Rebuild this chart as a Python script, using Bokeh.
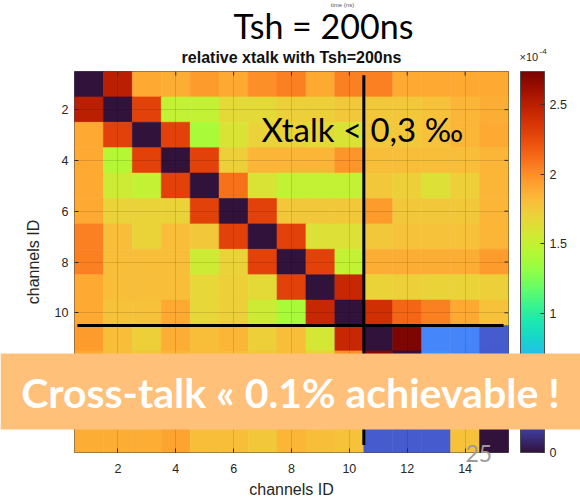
from bokeh.plotting import figure
from bokeh.models import (ColumnDataSource, LinearColorMapper, ColorBar, FixedTicker,
                          Label, BoxAnnotation, Range1d, CustomJSTickFormatter)
from bokeh.palettes import Turbo256
from bokeh.transform import transform
from bokeh.embed import file_html
from bokeh.resources import INLINE

# relative crosstalk (units of 1e-4), one list per channel row
ch01 = [0.00, 2.50, 1.90, 1.88, 1.95, 1.90, 2.00, 2.05, 1.90, 2.05, 2.05, 1.90, 1.90, 1.90, 1.90]
ch02 = [2.50, 0.00, 2.30, 1.50, 1.50, 1.65, 1.65, 1.72, 1.72, 1.75, 1.75, 1.75, 1.78, 1.85, 1.88]
ch03 = [1.90, 2.30, 0.00, 2.30, 1.40, 1.60, 1.70, 1.70, 1.65, 1.60, 1.75, 1.75, 1.78, 1.85, 1.90]
ch04 = [1.90, 1.45, 2.30, 0.00, 2.30, 1.72, 1.85, 1.85, 1.85, 1.97, 1.80, 1.80, 1.80, 1.80, 1.85]
ch05 = [1.90, 1.55, 1.50, 2.30, 0.00, 2.10, 1.60, 1.50, 1.50, 1.50, 1.75, 1.72, 1.62, 1.72, 1.85]
ch06 = [1.90, 1.70, 1.70, 1.70, 2.30, 0.00, 2.30, 1.75, 1.75, 1.75, 1.95, 1.75, 1.75, 1.75, 1.85]
ch07 = [2.05, 1.80, 1.70, 1.80, 1.75, 2.30, 0.00, 2.30, 1.62, 1.62, 1.75, 1.78, 1.78, 1.78, 1.85]
ch08 = [2.05, 1.80, 1.80, 1.80, 1.55, 1.70, 2.30, 0.00, 2.30, 1.50, 1.88, 1.88, 1.88, 1.88, 1.95]
ch09 = [1.90, 1.80, 1.80, 1.80, 1.68, 1.72, 1.65, 2.30, 0.00, 2.45, 1.70, 1.72, 1.70, 1.70, 1.72]
ch10 = [1.90, 1.78, 1.78, 1.90, 1.68, 1.72, 1.55, 1.40, 2.45, 0.00, 2.40, 2.15, 2.05, 1.90, 1.78]
ch11 = [1.95, 1.80, 1.72, 1.88, 1.80, 1.85, 1.72, 1.80, 1.58, 2.45, 0.00, 2.72, 0.47, 0.45, 0.28]
ch12 = [1.90, 1.80, 1.75, 1.85, 1.80, 1.80, 1.75, 1.80, 1.70, 2.00, 2.70, 0.00, 0.50, 0.45, 0.28]
ch13 = [1.90, 1.80, 1.75, 1.85, 1.80, 1.80, 1.75, 1.80, 1.70, 1.90, 0.45, 0.50, 0.00, 0.47, 0.28]
ch14 = [1.90, 1.80, 1.78, 1.85, 1.80, 1.80, 1.75, 1.82, 1.75, 1.80, 0.45, 0.45, 0.47, 0.00, 1.80]
ch15 = [1.88, 1.88, 1.88, 1.92, 1.80, 1.80, 1.75, 1.85, 1.80, 1.78, 0.28, 0.28, 0.28, 1.78, 0.00]
rows = [ch01, ch02, ch03, ch04, ch05, ch06, ch07, ch08, ch09, ch10, ch11, ch12, ch13, ch14, ch15]

channels = list(range(1, 16))
axis_ticks = [2, 4, 6, 8, 10, 12, 14]
cbar_ticks = [0, 0.5, 1, 1.5, 2, 2.5]
cbar_max = 2.74
divider = 10.5

xs, ys, vs = [], [], []
for r, row in zip(channels, rows):
    for c, v in zip(channels, row):
        xs.append(c); ys.append(r); vs.append(v)
src = ColumnDataSource(dict(x=xs, y=ys, v=vs))

W, H = 580, 502
FL, FR, FT, FB = 74, 508, 71, 452  # frame edges in canvas px

p = figure(width=W, height=H, output_backend="svg", toolbar_location=None,
           x_range=Range1d(0.5, 15.5), y_range=Range1d(15.5, 0.5),
           min_border_left=FL, min_border_right=W - FR, min_border_top=FT,
           min_border_bottom=H - FB)
p.background_fill_color = "white"
p.border_fill_color = "white"
p.outline_line_color = "#4d4d4d"
p.outline_line_width = 1

mapper = LinearColorMapper(palette=Turbo256, low=0, high=cbar_max)
p.rect(x="x", y="y", width=1, height=1, source=src,
       fill_color=transform("v", mapper), line_color=transform("v", mapper), line_width=0.6)

# tick marks on the top and right edges (MATLAB box style)
tick_dx, tick_dy = 0.14, 0.16
p.segment(x0=axis_ticks, x1=axis_ticks, y0=[0.5] * len(axis_ticks),
          y1=[0.5 + tick_dy] * len(axis_ticks), line_color="#333333", line_width=1)
p.segment(x0=[15.5] * len(axis_ticks), x1=[15.5 - tick_dx] * len(axis_ticks),
          y0=axis_ticks, y1=axis_ticks, line_color="#333333", line_width=1)

# dividing lines
p.segment(x0=[divider, 0.6], y0=[0.65, divider], x1=[divider, 15.33], y1=[15.2, divider],
          line_color="black", line_width=3)

for ax in (p.xaxis[0], p.yaxis[0]):
    ax.ticker = FixedTicker(ticks=axis_ticks)
    ax.major_tick_in = 4
    ax.major_tick_out = 0
    ax.minor_tick_line_color = None
    ax.axis_line_color = None
    ax.major_tick_line_color = "#333333"
    ax.major_label_text_font = "Liberation Sans"
    ax.major_label_text_font_size = "12.5px"
    ax.major_label_text_color = "#262626"
    ax.axis_label = "channels ID"
    ax.axis_label_text_font = "Liberation Sans"
    ax.axis_label_text_font_size = "16px"
    ax.axis_label_text_font_style = "normal"
    ax.axis_label_text_color = "#262626"
p.xaxis[0].major_label_standoff = 11
p.xaxis[0].axis_label_standoff = 5
p.yaxis[0].major_label_standoff = 6
p.yaxis[0].axis_label_standoff = 10

p.xgrid.ticker = FixedTicker(ticks=axis_ticks)
p.ygrid.ticker = FixedTicker(ticks=axis_ticks)
p.grid.grid_line_color = "black"
p.grid.grid_line_alpha = 0.12
p.grid.level = "guide"

cbar = ColorBar(color_mapper=mapper, width=24, height=FB - FT, padding=0, margin=0,
                ticker=FixedTicker(ticks=cbar_ticks),
                formatter=CustomJSTickFormatter(code="return tick.toString();"),
                major_tick_in=4, major_tick_out=0, major_tick_line_color="#333333",
                bar_line_color="#4d4d4d", major_label_text_font="Liberation Sans",
                major_label_text_font_size="12.5px", major_label_text_color="#262626",
                label_standoff=5, location=(12, 0))
p.add_layout(cbar, "right")

# transparent overlay canvas (separate root) for slide texts and the banner
o = figure(width=W, height=H, output_backend="svg", toolbar_location=None,
           x_range=Range1d(0, W), y_range=Range1d(H, 0),
           min_border=0, min_border_left=0, min_border_right=0,
           min_border_top=0, min_border_bottom=0,
           x_axis_type=None, y_axis_type=None)
o.outline_line_color = None
o.background_fill_alpha = 0
o.border_fill_alpha = 0
o.grid.visible = False
o.styles = {"position": "absolute", "top": "0px", "left": "0px"}

def lab(text, x, y, size, font="Liberation Sans", style="normal", color="black",
        align="left"):
    l = Label(x=x, y=y, text=text, text_font=font, text_font_size=size,
              text_font_style=style, text_color=color, text_align=align,
              text_baseline="middle")
    o.add_layout(l)
    return l

lab("time (ns)", 342, 4, "6px", color="#555555", align="center")
lab("Tsh = 200ns", 233, 25, "34px", font="Lato")
lab("relative xtalk with Tsh=200ns", (FL + FR) / 2, 57, "16px", style="bold",
    align="center", color="#111111")
lab("×10", 519, 56, "11px", color="#262626")
lab("-4", 539, 51, "8px", color="#262626")
lab("Xtalk < 0,3 ‰", 261, 128, "33px", font="Lato")

banner = BoxAnnotation(left=0, right=W, top=353, bottom=429, fill_color="#ffc07a",
                       fill_alpha=1, line_color=None)
o.add_layout(banner)
lab("Cross-talk « 0.1% achievable !", W / 2, 392, "41px", font="Lato", style="bold",
    color="white", align="center")
lab("25", 465, 453, "23px", font="Lato", color="#9a9a9a")

open("out.html", "w").write(file_html([p, o], INLINE))
